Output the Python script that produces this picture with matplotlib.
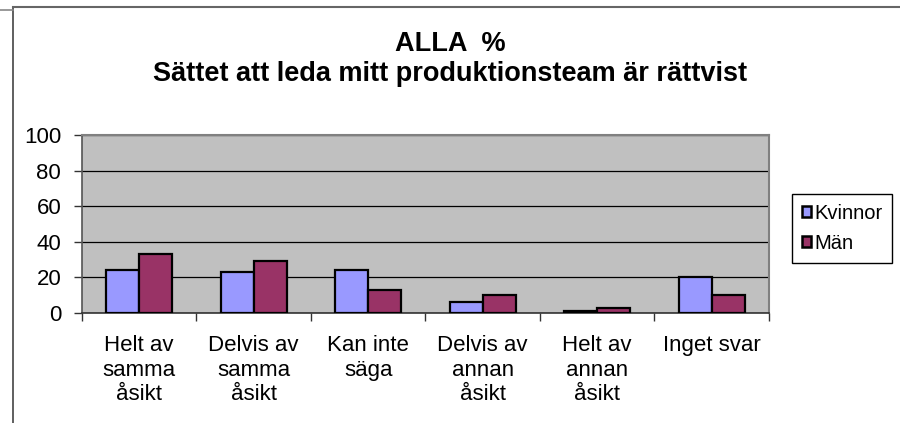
import numpy as np
import matplotlib
matplotlib.use('Agg')
import matplotlib.pyplot as plt
from matplotlib.lines import Line2D
from matplotlib.patches import Patch

plt.rcParams['font.family'] = ['Liberation Sans', 'DejaVu Sans']

categories = ['Helt av\nsamma\nåsikt', 'Delvis av\nsamma\nåsikt', 'Kan inte\nsäga',
              'Delvis av\nannan\nåsikt', 'Helt av\nannan\nåsikt', 'Inget svar']
kvinnor = [24, 23, 24, 6, 1, 20]
man = [33, 29, 13, 10, 3, 10]
yticks = [0, 20, 40, 60, 80, 100]

c_kv = '#9999FF'
c_man = '#993366'

fig = plt.figure(figsize=(9, 4.23), dpi=100)
ax = fig.add_axes([0.0911, 0.2600, 0.7633, 0.4209])
ax.set_facecolor('#C0C0C0')

x = np.arange(len(categories))
w = 0.288
ax.bar(x - w / 2, kvinnor, w, color=c_kv, edgecolor='black', linewidth=1.6, zorder=3)
ax.bar(x + w / 2, man, w, color=c_man, edgecolor='black', linewidth=1.6, zorder=3)

ax.set_xlim(-0.5, len(categories) - 0.5)
ax.set_ylim(0, 100)
ax.set_yticks(yticks)
ax.set_yticklabels([str(v) for v in yticks])
ax.yaxis.grid(True, color='black', linewidth=0.9, zorder=1)
ax.set_axisbelow(True)

ax.set_xticks(x)
ax.set_xticklabels(categories, linespacing=1.22)
ax.set_xticks(np.arange(-0.5, len(categories)), minor=True)
ax.tick_params(axis='x', which='major', length=0, pad=16, labelsize=16)
ax.tick_params(axis='x', which='minor', length=6, width=1, color='#333333', direction='out')
ax.tick_params(axis='y', length=6, width=1, color='#333333', pad=9, labelsize=16)

for s in ['top', 'right']:
    ax.spines[s].set_color('#808080')
    ax.spines[s].set_linewidth(1.5)
ax.spines['left'].set_color('#555555')
ax.spines['left'].set_linewidth(1.2)
ax.spines['bottom'].set_color('#333333')
ax.spines['bottom'].set_linewidth(1.2)

fig.text(0.5, 1 - 44 / 423, 'ALLA  %', ha='center', va='center', fontsize=19.5, fontweight='bold')
fig.text(0.5, 1 - 74 / 423, 'Sättet att leda mitt produktionsteam är rättvist',
         ha='center', va='center', fontsize=19.5, fontweight='bold')

handles = [Patch(facecolor=c_kv, edgecolor='black', linewidth=1.8),
           Patch(facecolor=c_man, edgecolor='black', linewidth=1.8)]
leg = fig.legend(handles, ['Kvinnor', 'Män'], loc='center left',
                 bbox_to_anchor=(792 / 900, 1 - 228.5 / 423), fontsize=14.5,
                 handlelength=0.45, handleheight=0.45, handletextpad=0.15,
                 labelspacing=0.55, borderpad=0.5, borderaxespad=0,
                 fancybox=False, shadow=False, framealpha=1, edgecolor='black')
leg.get_frame().set_linewidth(1)

# outer chart frame
fig.add_artist(Line2D([13 / 900, 13 / 900], [0, 1 - 7 / 423], color='#444444', linewidth=1.2))
fig.add_artist(Line2D([13 / 900, 1], [1 - 7 / 423, 1 - 7 / 423], color='#666666', linewidth=1.5))
fig.add_artist(Line2D([0, 13 / 900], [1 - 10 / 423, 1 - 10 / 423], color='#888888', linewidth=1.2))

fig.savefig('out.png', dpi=100)
